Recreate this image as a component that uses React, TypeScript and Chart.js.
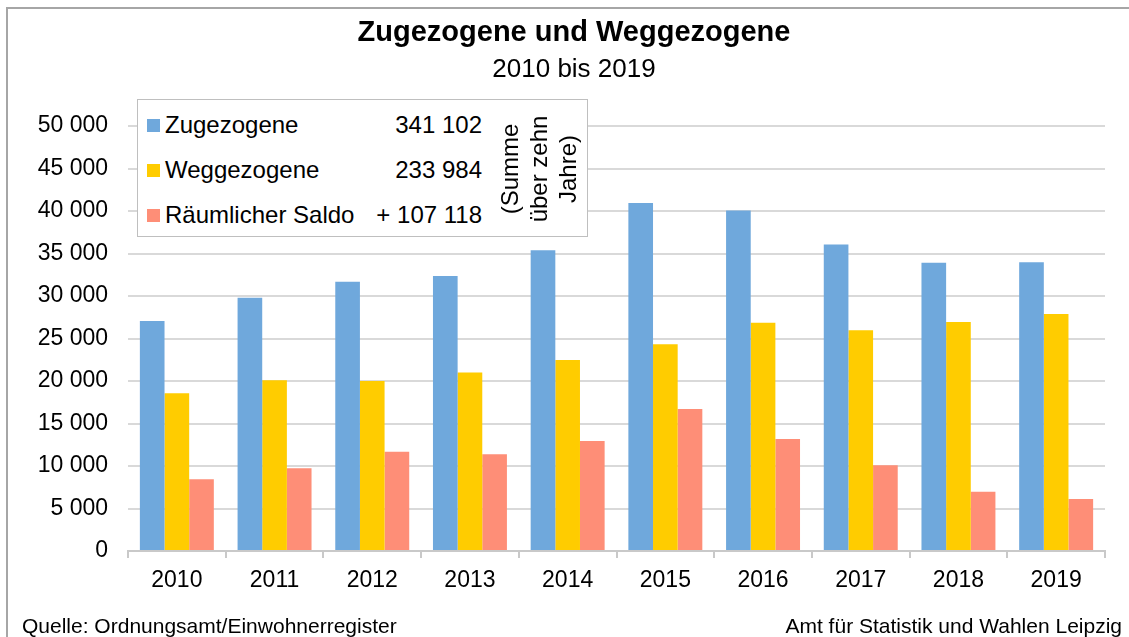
import React, { useEffect, useRef } from 'react';
import { Chart, registerables } from 'chart.js';

Chart.register(...registerables);

const categories = ['2010', '2011', '2012', '2013', '2014', '2015', '2016', '2017', '2018', '2019'];
const zugezogene = [27060, 29790, 31670, 32340, 35390, 40950, 40060, 36050, 33900, 33970];
const weggezogene = [18550, 20090, 19990, 21010, 22460, 24310, 26860, 25960, 26940, 27880];
const saldo = [8430, 9730, 11690, 11370, 12940, 16700, 13190, 10080, 6980, 6120];

const seriesNames = ['Zugezogene', 'Weggezogene', 'Räumlicher Saldo'];
const seriesColors = ['#6fa8dc', '#ffcc00', '#fe8e77'];
const seriesTotals = ['341 102', '233 984', '+ 107 118'];
const totalsNote = ['(Summe', 'über zehn', 'Jahre)'];

const yMin = 0;
const yMax = 50000;
const yStep = 5000;

const titleText = 'Zugezogene und Weggezogene';
const subtitleText = '2010 bis 2019';
const sourceText = 'Quelle: Ordnungsamt/Einwohnerregister';
const authorText = 'Amt für Statistik und Wahlen Leipzig';

const FONT = '"Liberation Sans", Arial, sans-serif';

function fmt(v: number): string {
  return String(v).replace(/\B(?=(\d{3})+(?!\d))/g, ' ');
}

export default function App() {
  const canvasRef = useRef<HTMLCanvasElement | null>(null);

  useEffect(() => {
    if (!canvasRef.current) return;
    const seriesData = [zugezogene, weggezogene, saldo];
    const chart = new Chart(canvasRef.current, {
      type: 'bar',
      data: {
        labels: categories,
        datasets: seriesNames.map((name, i) => ({
          label: name,
          data: seriesData[i],
          backgroundColor: seriesColors[i],
          borderWidth: 0,
          barPercentage: 1,
          categoryPercentage: 0.757,
        })),
      },
      options: {
        animation: false,
        responsive: true,
        maintainAspectRatio: false,
        layout: { padding: { left: 8, top: 126, right: 24, bottom: 0 } },
        plugins: {
          legend: { display: false },
          title: { display: false },
          tooltip: { enabled: false },
        },
        scales: {
          x: {
            offset: true,
            afterFit: (s: any) => {
              s.height = 86;
            },
            grid: {
              display: true,
              offset: true,
              drawOnChartArea: false,
              drawTicks: true,
              tickLength: 7,
              color: '#c9c9c9',
              lineWidth: 2,
            },
            border: { display: true, color: '#c9c9c9', width: 2 },
            ticks: {
              color: '#000000',
              font: { family: FONT, size: 23 },
              padding: 9,
            },
          },
          y: {
            min: yMin,
            max: yMax,
            afterFit: (s: any) => {
              s.width = 120;
            },
            grid: {
              color: '#d9d9d9',
              lineWidth: 2,
              drawTicks: false,
            },
            border: { display: false },
            ticks: {
              stepSize: yStep,
              color: '#000000',
              font: { family: FONT, size: 23 },
              padding: 20,
              callback: (v: any) => fmt(Number(v)),
            },
          },
        },
      },
    });
    return () => chart.destroy();
  }, []);

  return (
    <div
      style={{
        position: 'absolute',
        left: 0,
        top: 0,
        width: 1129,
        height: 637,
        overflow: 'hidden',
        background: '#ffffff',
        fontFamily: FONT,
        color: '#000',
      }}
    >
      <div
        style={{
          position: 'absolute',
          left: 6,
          top: 7,
          width: 1200,
          height: 700,
          border: '2px solid #a6a6a6',
          boxSizing: 'border-box',
        }}
      />
      <div style={{ position: 'absolute', left: 0, top: 0, width: 1129, height: 637 }}>
        <canvas ref={canvasRef} style={{ width: '100%', height: '100%' }} />
      </div>
      <div
        style={{
          position: 'absolute',
          left: 274,
          width: 600,
          top: 14,
          textAlign: 'center',
          fontSize: 29,
          fontWeight: 'bold',
          lineHeight: '34px',
          whiteSpace: 'nowrap',
        }}
      >
        {titleText}
      </div>
      <div
        style={{
          position: 'absolute',
          left: 274,
          width: 600,
          top: 53,
          textAlign: 'center',
          fontSize: 26,
          lineHeight: '30px',
          whiteSpace: 'nowrap',
        }}
      >
        {subtitleText}
      </div>
      <div
        style={{
          position: 'absolute',
          left: 137,
          top: 99,
          width: 451,
          height: 138,
          border: '1.5px solid #bfbfbf',
          boxSizing: 'border-box',
          background: '#ffffff',
        }}
      >
        {seriesNames.map((name, i) => (
          <React.Fragment key={name}>
            <div
              style={{
                position: 'absolute',
                left: 9,
                top: 19 + i * 45,
                width: 13,
                height: 13,
                background: seriesColors[i],
              }}
            />
            <div
              style={{
                position: 'absolute',
                left: 27,
                top: 11 + i * 45,
                fontSize: 24,
                lineHeight: '28px',
                whiteSpace: 'nowrap',
              }}
            >
              {name}
            </div>
            <div
              style={{
                position: 'absolute',
                right: 105,
                top: 11 + i * 45,
                fontSize: 24,
                lineHeight: '28px',
                whiteSpace: 'nowrap',
                textAlign: 'right',
              }}
            >
              {seriesTotals[i]}
            </div>
          </React.Fragment>
        ))}
        <div
          style={{
            position: 'absolute',
            left: 331,
            top: 25,
            width: 140,
            height: 88,
            transform: 'rotate(-90deg)',
            transformOrigin: '50% 50%',
            textAlign: 'center',
            fontSize: 24,
            lineHeight: '29px',
            whiteSpace: 'nowrap',
          }}
        >
          {totalsNote.map((t) => (
            <div key={t}>{t}</div>
          ))}
        </div>
      </div>
      <div
        style={{
          position: 'absolute',
          left: 22,
          top: 613,
          fontSize: 21,
          lineHeight: '25px',
          whiteSpace: 'nowrap',
        }}
      >
        {sourceText}
      </div>
      <div
        style={{
          position: 'absolute',
          right: 7,
          top: 613,
          fontSize: 21,
          lineHeight: '25px',
          whiteSpace: 'nowrap',
          textAlign: 'right',
        }}
      >
        {authorText}
      </div>
    </div>
  );
}
